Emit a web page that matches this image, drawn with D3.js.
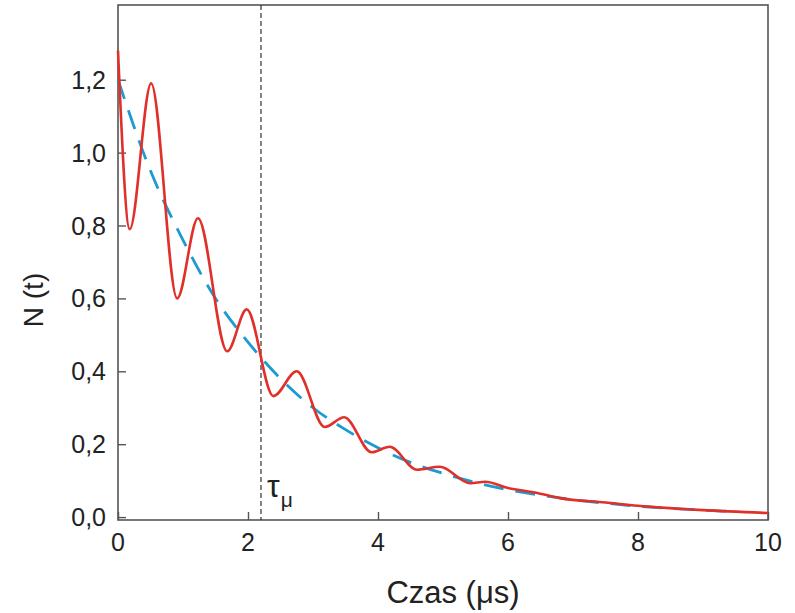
<!DOCTYPE html>
<html>
<head>
<meta charset="utf-8">
<script src="https://cdn.jsdelivr.net/npm/d3@7"></script>
<style>
  body { margin: 0; background: #fff; }
  svg text { font-family: "Liberation Sans", Arial, sans-serif; fill: #222; }
</style>
</head>
<body>
<svg id="chart" width="795" height="613"></svg>
<script>
const redT = [0, 0.18, 0.51, 0.91, 1.23, 1.68, 1.98, 2.39, 2.75, 3.18, 3.48, 3.9, 4.18, 4.6, 4.95, 5.42, 5.65, 6.0, 6.45, 6.8, 7.5, 8, 9, 10];
const redN = [1.28, 0.79, 1.19, 0.60, 0.82, 0.455, 0.57, 0.332, 0.40, 0.247, 0.274, 0.178, 0.193, 0.13, 0.138, 0.093, 0.097, 0.08, 0.066, 0.052, 0.04, 0.031, 0.019, 0.011];

// blue dashed curve (plain decay)
const blueT = [0, 0.5, 1, 1.5, 2, 2.5, 3, 3.5, 4, 4.5, 5, 5.5, 6, 6.5, 7, 7.5, 8, 8.5, 9, 9.4];
const blueN = [1.20, 0.95, 0.76, 0.60, 0.48, 0.38, 0.30, 0.24, 0.19, 0.15, 0.12, 0.095, 0.075, 0.06, 0.048, 0.038, 0.03, 0.024, 0.019, 0.016];

const xTicks = [0, 2, 4, 6, 8, 10];
const yTicks = [0, 0.2, 0.4, 0.6, 0.8, 1.0, 1.2];
const tauMu = 2.2;

const svg = d3.select('#chart');
const x = d3.scaleLinear().domain([0, 10]).range([118, 768]);
const y = d3.scaleLinear().domain([-0.008, 1.405]).range([520, 5]);

const fmt = d => d3.format('.1f')(d).replace('.', ',');

// frame
svg.append('rect')
    .attr('x', 118).attr('y', 5)
    .attr('width', 650).attr('height', 515)
    .attr('fill', 'none')
    .attr('stroke', '#555')
    .attr('stroke-width', 1.6);

// ticks pointing inward
const xAxis = svg.append('g').attr('transform', 'translate(0,520)')
    .call(d3.axisTop(x).tickValues(xTicks).tickSize(8).tickFormat(''));
const yAxis = svg.append('g').attr('transform', 'translate(118,0)')
    .call(d3.axisRight(y).tickValues(yTicks).tickSize(8).tickFormat(''));
[xAxis, yAxis].forEach(g => {
    g.select('.domain').remove();
    g.selectAll('line').attr('stroke', '#555').attr('stroke-width', 1.4);
});

svg.selectAll('.xlab').data(xTicks).enter().append('text')
    .attr('x', d => x(d)).attr('y', 551)
    .attr('text-anchor', 'middle')
    .attr('font-size', 25)
    .text(d => d);

svg.selectAll('.ylab').data(yTicks).enter().append('text')
    .attr('x', 106).attr('y', d => y(d) + 9)
    .attr('text-anchor', 'end')
    .attr('font-size', 25)
    .text(fmt);

// axis titles
svg.append('text')
    .attr('x', 453).attr('y', 603)
    .attr('text-anchor', 'middle')
    .attr('font-size', 31)
    .text('Czas (μs)');

svg.append('text')
    .attr('transform', 'translate(43,300) rotate(-90)')
    .attr('text-anchor', 'middle')
    .attr('font-size', 28)
    .text('N (t)');

// tau_mu marker
svg.append('line')
    .attr('x1', x(tauMu)).attr('x2', x(tauMu))
    .attr('y1', 5).attr('y2', 520)
    .attr('stroke', '#333')
    .attr('stroke-width', 1.2)
    .attr('stroke-dasharray', '5,3');

const tau = svg.append('text')
    .attr('x', x(tauMu) + 6).attr('y', 497)
    .attr('font-size', 32)
    .attr('font-family', '"DejaVu Serif", serif');
tau.append('tspan').text('τ');
tau.append('tspan').attr('font-size', 21).attr('dy', 10).attr('dx', 1).text('μ');

// curves
const blueLine = d3.line()
    .x((d, i) => x(blueT[i]))
    .y(d => y(d))
    .curve(d3.curveMonotoneX);

const redLine = d3.line()
    .x((d, i) => x(redT[i]))
    .y(d => y(d))
    .curve(d3.curveMonotoneX);

svg.append('path')
    .attr('d', blueLine(blueN))
    .attr('fill', 'none')
    .attr('stroke', '#1d9bd1')
    .attr('stroke-width', 2.8)
    .attr('stroke-dasharray', '20,12');

svg.append('path')
    .attr('d', redLine(redN))
    .attr('fill', 'none')
    .attr('stroke', '#e0302a')
    .attr('stroke-width', 2.6);
</script>
</body>
</html>
